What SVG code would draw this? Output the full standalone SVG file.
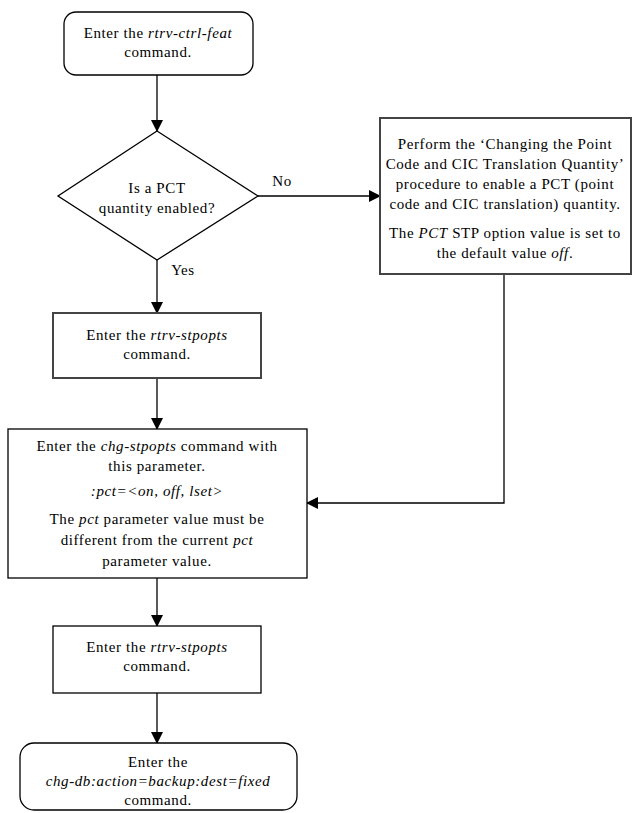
<svg xmlns="http://www.w3.org/2000/svg" width="635" height="813" viewBox="0 0 635 813">
<defs>
<marker id="ah" markerWidth="12" markerHeight="12" refX="11" refY="6" orient="auto" markerUnits="userSpaceOnUse"><path d="M0,0 L12,6 L0,12 Z" fill="#000"/></marker>
</defs>
<style>
.s{fill:#fff;stroke:#000;stroke-width:1.3}
.b{fill:#fff;stroke:#444;stroke-width:2}
text{font-family:"Liberation Serif","Times New Roman",serif;font-size:15px;fill:#000;text-anchor:middle;letter-spacing:0.6px}
.i{font-style:italic}
.c{fill:none;stroke:#000;stroke-width:1.3}
</style>
<rect width="635" height="813" fill="#fff"/>
<g id="connectors">
<path class="c" d="M157,75 V131" marker-end="url(#ah)"/>
<path class="c" d="M258,196 H380" marker-end="url(#ah)"/>
<path class="c" d="M157,260 V313" marker-end="url(#ah)"/>
<path class="c" d="M157,378 V429" marker-end="url(#ah)"/>
<path class="c" d="M504,274 V503 H307" marker-end="url(#ah)"/>
<path class="c" d="M157,578 V626" marker-end="url(#ah)"/>
<path class="c" d="M157,693 V743" marker-end="url(#ah)"/>
<text x="282" y="186">No</text>
<text x="183" y="275">Yes</text>
</g>
<g id="start">
<rect class="s" x="64" y="12" width="189" height="63" rx="12"/>
<text x="158" y="38">Enter the <tspan class="i">rtrv-ctrl-feat</tspan></text>
<text x="158" y="57">command.</text>
</g>
<g id="decision">
<polygon class="s" points="157,131 258,196 157,260 58,196"/>
<text x="157" y="193">Is a PCT</text>
<text x="157" y="213">quantity enabled?</text>
</g>
<g id="enable-pct">
<rect class="b" x="380" y="118" width="251" height="156"/>
<text x="505" y="149">Perform the ‘Changing the Point</text>
<text x="505" y="169">Code and CIC Translation Quantity’</text>
<text x="505" y="189">procedure to enable a PCT (point</text>
<text x="505" y="209">code and CIC translation) quantity.</text>
<text x="505" y="238">The <tspan class="i">PCT</tspan> STP option value is set to</text>
<text x="505" y="258">the default value <tspan class="i">off</tspan>.</text>
</g>
<g id="rtrv-stpopts-1">
<rect class="b" x="53" y="313" width="208" height="65"/>
<text x="157" y="340">Enter the <tspan class="i">rtrv-stpopts</tspan></text>
<text x="157" y="359">command.</text>
</g>
<g id="chg-stpopts">
<rect class="s" x="8" y="429" width="299" height="149"/>
<text x="157" y="451">Enter the <tspan class="i">chg-stpopts</tspan> command with</text>
<text x="157" y="471">this parameter.</text>
<text x="157" y="496" class="i">:pct=&lt;on, off, lset&gt;</text>
<text x="157" y="524">The <tspan class="i">pct</tspan> parameter value must be</text>
<text x="157" y="545">different from the current <tspan class="i">pct</tspan></text>
<text x="157" y="566">parameter value.</text>
</g>
<g id="rtrv-stpopts-2">
<rect class="s" x="53" y="626" width="208" height="67"/>
<text x="157" y="652">Enter the <tspan class="i">rtrv-stpopts</tspan></text>
<text x="157" y="671">command.</text>
</g>
<g id="chg-db">
<rect class="s" x="20" y="743" width="277" height="67" rx="14"/>
<text x="158" y="767">Enter the</text>
<text x="158" y="786" class="i">chg-db:action=backup:dest=fixed</text>
<text x="158" y="805">command.</text>
</g>
</svg>
